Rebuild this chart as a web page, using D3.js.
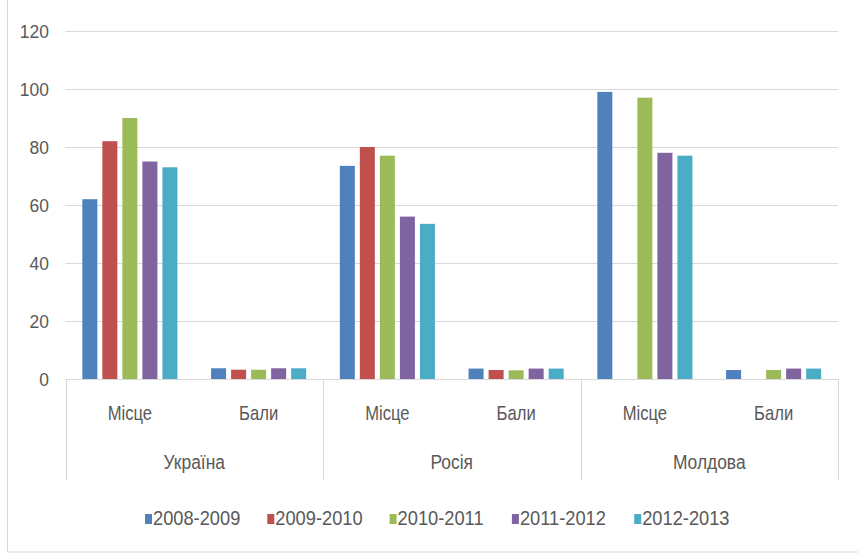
<!DOCTYPE html>
<html>
<head>
<meta charset="utf-8">
<script src="https://cdn.jsdelivr.net/npm/d3@7"></script>
<style>
  body { margin: 0; background: #fff; }
  svg text { font-family: "Liberation Sans", Arial, sans-serif; fill: #595959; }
</style>
</head>
<body>
<svg width="858" height="555"></svg>
<script>
var countries = ['Україна', 'Росія', 'Молдова'];
var measures = ['Місце', 'Бали'];
var seasons = ['2008-2009', '2009-2010', '2010-2011', '2011-2012', '2012-2013'];
var colors = ['#4f81bd', '#c0504d', '#9bbb59', '#8064a2', '#4bacc6'];
var yTicks = [0, 20, 40, 60, 80, 100, 120];

// values in order: Україна Місце, Україна Бали, Росія Місце, Росія Бали, Молдова Місце, Молдова Бали
var s2008 = [62, 3.7, 73.5, 3.6, 99, 3.1];
var s2009 = [82, 3.2, 80, 3.1, null, null];
var s2010 = [90, 3.2, 77, 3.0, 97, 3.1];
var s2011 = [75, 3.7, 56, 3.6, 78, 3.6];
var s2012 = [73, 3.7, 53.5, 3.6, 77, 3.6];
var seriesValues = [s2008, s2009, s2010, s2011, s2012];

var svg = d3.select('svg');

// squeeze text sideways, the original font is a narrow one
function at(x, y, sx) {
    return 'translate(' + x + ',' + y + ') scale(' + sx + ',1)';
}

// chart area border
svg.append('rect')
    .attr('x', 7.5)
    .attr('y', -2)
    .attr('width', 860)
    .attr('height', 554)
    .style('fill', 'none')
    .style('stroke', '#d9d9d9');

var plotLeft = 65.5, plotRight = 838, plotTop = 31, plotBottom = 379;

var y = d3.scaleLinear().domain([0, 120]).range([plotBottom, plotTop]);
var xCountry = d3.scaleBand().domain(countries).range([plotLeft, plotRight]);
var xMeasure = d3.scaleBand().domain(measures).range([0, xCountry.bandwidth()]);
var xSeason = d3.scaleBand().domain(seasons).range([0, xMeasure.bandwidth()])
    .paddingInner(0.25).paddingOuter(0.84);

// gridlines
svg.append('g')
    .selectAll('line')
    .data(yTicks)
    .join('line')
    .attr('x1', plotLeft)
    .attr('x2', plotRight)
    .attr('y1', function(d) { return Math.round(y(d)) + 0.5; })
    .attr('y2', function(d) { return Math.round(y(d)) + 0.5; })
    .style('stroke', '#d9d9d9')
    .style('stroke-width', 1);

// y labels
svg.append('g')
    .selectAll('text')
    .data(yTicks)
    .join('text')
    .attr('transform', function(d) { return at(49, y(d) + 7, 0.92); })
    .attr('text-anchor', 'end')
    .style('font-size', '19px')
    .text(function(d) { return d; });

// bars
var rows = [];
countries.forEach(function(c, ci) {
    measures.forEach(function(m, mi) {
        seasons.forEach(function(s, si) {
            var v = seriesValues[si][ci * 2 + mi];
            if (v != null) rows.push({country: c, measure: m, season: s, value: v, color: colors[si]});
        });
    });
});

svg.append('g')
    .selectAll('rect')
    .data(rows)
    .join('rect')
    .attr('x', function(d) { return xCountry(d.country) + xMeasure(d.measure) + xSeason(d.season); })
    .attr('y', function(d) { return y(d.value); })
    .attr('width', xSeason.bandwidth())
    .attr('height', function(d) { return plotBottom - y(d.value); })
    .style('fill', function(d) { return d.color; });

// category axis separators
var seps = countries.map(function(c) { return xCountry(c); }).concat([plotRight]);
svg.append('g')
    .selectAll('line')
    .data(seps)
    .join('line')
    .attr('x1', function(d) { return Math.round(d) + 0.5; })
    .attr('x2', function(d) { return Math.round(d) + 0.5; })
    .attr('y1', plotBottom)
    .attr('y2', 480)
    .style('stroke', '#d9d9d9');

// measure labels
var labelRows = [];
countries.forEach(function(c) {
    measures.forEach(function(m) { labelRows.push({country: c, measure: m}); });
});
svg.append('g')
    .selectAll('text')
    .data(labelRows)
    .join('text')
    .attr('transform', function(d) {
        return at(xCountry(d.country) + xMeasure(d.measure) + xMeasure.bandwidth() / 2, 420, 0.83);
    })
    .attr('text-anchor', 'middle')
    .style('font-size', '20px')
    .text(function(d) { return d.measure; });

// country labels
svg.append('g')
    .selectAll('text')
    .data(countries)
    .join('text')
    .attr('transform', function(d) { return at(xCountry(d) + xCountry.bandwidth() / 2, 469, 0.87); })
    .attr('text-anchor', 'middle')
    .style('font-size', '20px')
    .text(function(d) { return d; });

// legend
var legend = svg.append('g')
    .selectAll('g')
    .data(seasons)
    .join('g')
    .attr('transform', function(d, i) { return 'translate(' + (145 + i * 122.3) + ',0)'; });

legend.append('rect')
    .attr('x', 0)
    .attr('y', 514)
    .attr('width', 7)
    .attr('height', 10)
    .style('fill', function(d, i) { return colors[i]; });

legend.append('text')
    .attr('transform', at(8, 525, 0.87))
    .style('font-size', '21px')
    .text(function(d) { return d; });
</script>
</body>
</html>
